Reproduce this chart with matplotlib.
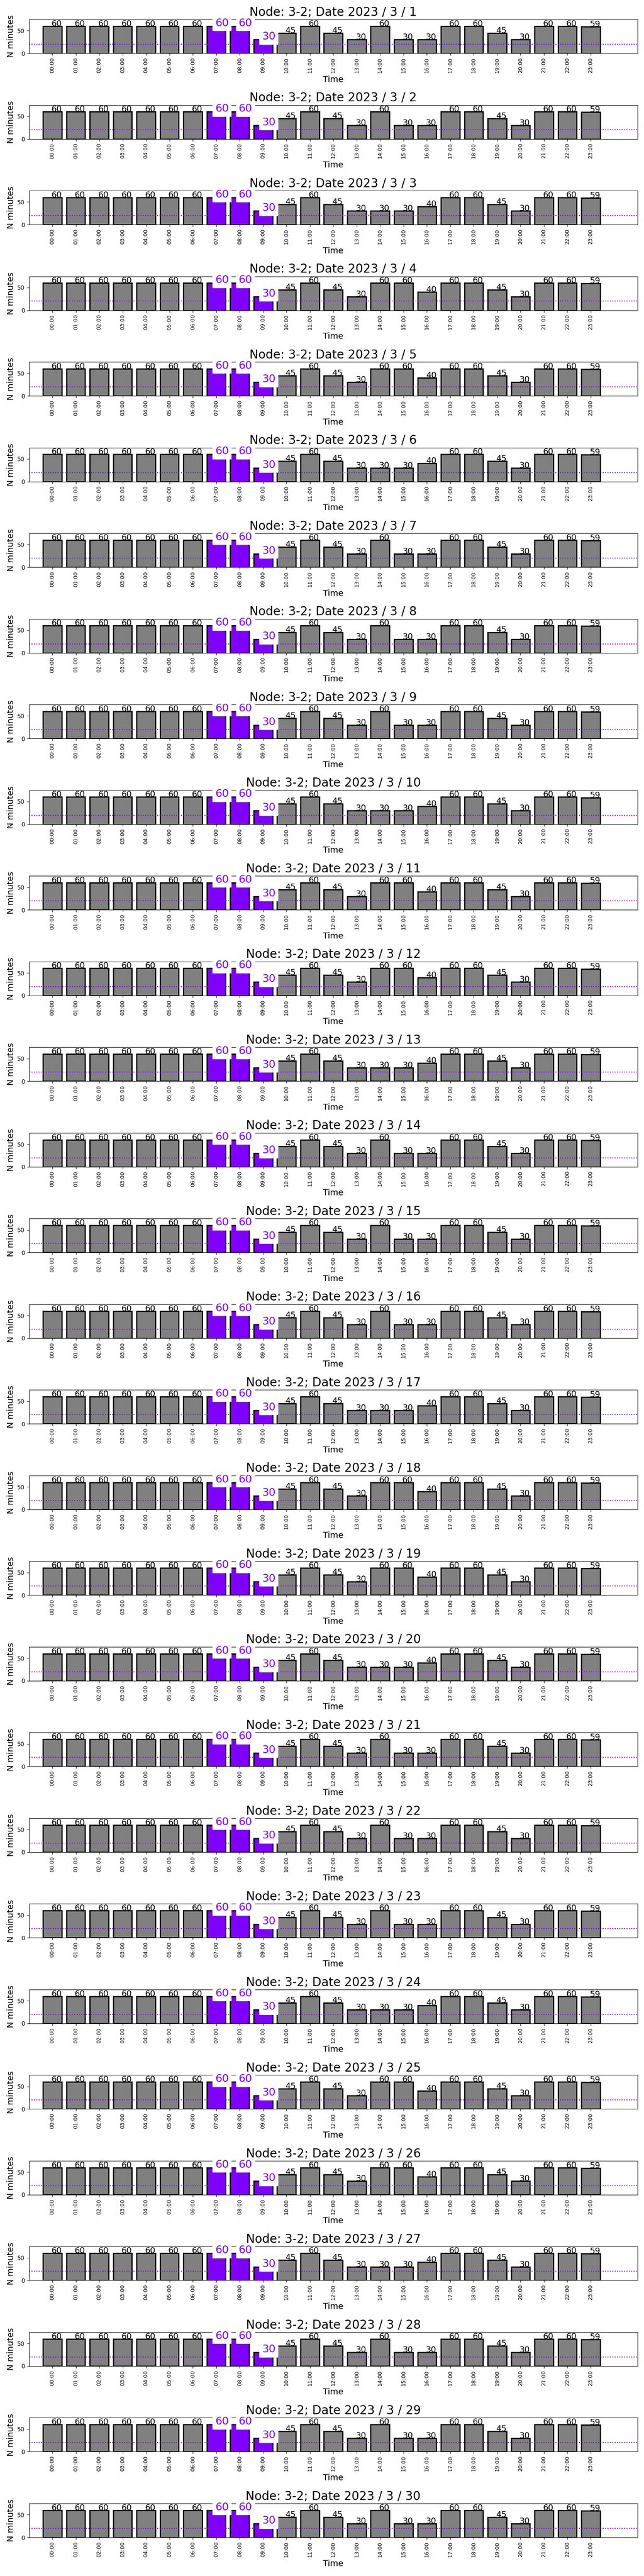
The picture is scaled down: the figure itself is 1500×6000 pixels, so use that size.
import numpy as np
import matplotlib.pyplot as plt

# Node / month shown in the panels
node = "3-2"
year, month = 2023, 3
days = list(range(1, 31))
hour_labels = [f"{h:02d}:00" for h in range(24)]

# minutes per hour, three kinds of day (they only differ at 13:00-16:00)
minutes_a = [60, 60, 60, 60, 60, 60, 60, 60, 60, 30, 45, 60,
             45, 30, 60, 30, 30, 60, 60, 45, 30, 60, 60, 59]
minutes_b = [60, 60, 60, 60, 60, 60, 60, 60, 60, 30, 45, 60,
             45, 30, 30, 30, 40, 60, 60, 45, 30, 60, 60, 59]
minutes_c = [60, 60, 60, 60, 60, 60, 60, 60, 60, 30, 45, 60,
             45, 30, 60, 60, 40, 60, 60, 45, 30, 60, 60, 59]
# which kind each day of the month is (day 1 .. day 30)
day_type = "AABCCBAAABCCBAAABCCBAAABCCBAAA"

highlight_hours = [7, 8, 9]
threshold = 20

purple = '#7f00ff'
series = {'A': minutes_a, 'B': minutes_b, 'C': minutes_c}

fig, axs = plt.subplots(len(days), 1, figsize=(15, 60), dpi=100)
fig.subplots_adjust(left=0.045, right=0.99, top=0.9925, bottom=0.015, hspace=1.525)

for ax, day, kind in zip(axs, days, day_type):
    vals = series[kind]
    x = np.arange(len(vals))
    colors = [purple if h in highlight_hours else 'gray' for h in x]

    ax.bar(x, vals, color=colors, edgecolor='black', linewidth=2)
    ax.axhline(threshold, color=purple, ls=':', lw=1.5)

    for i, v in enumerate(vals):
        if i in highlight_hours:
            ax.text(i - 0.05, v, str(v), fontsize=18, color=purple,
                    bbox=dict(facecolor='white', edgecolor='white'))
        else:
            ax.text(i - 0.05, v, str(v), fontsize=14, color='black')

    ax.set_xlim(-1, 25)
    ax.set_ylim(0, 75)
    ax.set_yticks([0, 50])
    ax.set_xticks(x)
    ax.set_xticklabels(hour_labels, rotation=90, fontsize=9)
    ax.tick_params(axis='y', labelsize=10)
    ax.set_xlabel('Time', fontsize=14)
    ax.set_ylabel('N minutes', fontsize=14)
    ax.set_title(f"Node: {node}; Date {year} / {month} / {day}", fontsize=20)

plt.savefig('out.png', dpi=100)
